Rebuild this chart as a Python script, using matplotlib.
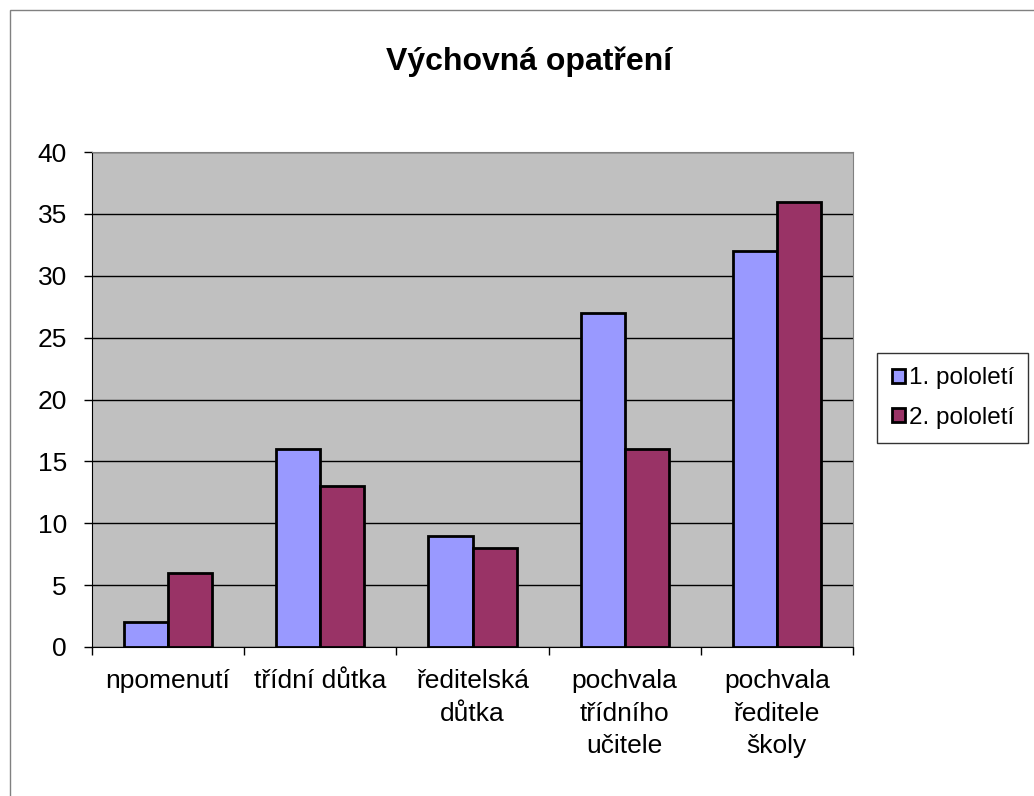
import numpy as np
import matplotlib.pyplot as plt
from matplotlib.patches import Rectangle, Patch

categories = ["npomenutí", "třídní důtka", "ředitelská\ndůtka",
              "pochvala\ntřídního\nučitele", "pochvala\nředitele\nškoly"]
pololeti_1 = [2, 16, 9, 27, 32]
pololeti_2 = [6, 13, 8, 16, 36]
series_names = ["1. pololetí", "2. pololetí"]

plt.rcParams["font.family"] = ["Liberation Sans", "DejaVu Sans"]

fig = plt.figure(figsize=(10.34, 7.96), dpi=100)
# outer chart border (only left/top visible in the original)
fig.patches.append(Rectangle((10 / 1034, -0.1), 1.2, 1.1 - 10 / 796,
                             transform=fig.transFigure, fill=False,
                             edgecolor="#808080", linewidth=1))

ax = fig.add_axes([92 / 1034, 149 / 796, 761 / 1034, 495 / 796])
ax.set_facecolor("#C0C0C0")

x = np.arange(len(categories))
w = 0.29
ax.bar(x - w / 2, pololeti_1, w, color="#9999FF", edgecolor="black",
       linewidth=2, zorder=3)
ax.bar(x + w / 2, pololeti_2, w, color="#993366", edgecolor="black",
       linewidth=2, zorder=3)

ax.set_xlim(-0.5, len(categories) - 0.5)
ax.set_ylim(0, 40)
ax.set_yticks(range(0, 41, 5))
ax.yaxis.grid(True, color="black", linewidth=1, zorder=0)
ax.set_axisbelow(True)

ax.set_xticks(np.arange(len(categories) + 1) - 0.5)
ax.set_xticklabels([])
ax.set_xticks(x, minor=True)
ax.set_xticklabels(categories, minor=True, fontsize=19, linespacing=1.45,
                   va="top")
ax.tick_params(axis="x", which="minor", length=0, pad=16)
ax.tick_params(axis="x", which="major", length=6, width=1)
ax.tick_params(axis="y", labelsize=19, length=6, width=1, pad=12)

for s in ["left", "bottom"]:
    ax.spines[s].set_color("black")
for s in ["top", "right"]:
    ax.spines[s].set_color("#808080")

fig.text(529 / 1034, 1 - 62 / 796, "Výchovná opatření", ha="center",
         va="center", fontsize=23, fontweight="bold")

handles = [Patch(facecolor="#9999FF", edgecolor="black", linewidth=2),
           Patch(facecolor="#993366", edgecolor="black", linewidth=2)]
leg = fig.legend(handles, series_names, loc="center left",
                 bbox_to_anchor=(877 / 1034, 1 - 398 / 796), fontsize=17.5,
                 frameon=True, fancybox=False, edgecolor="black",
                 handlelength=0.55, handleheight=0.55, handletextpad=0.15,
                 borderpad=0.6, labelspacing=0.7, borderaxespad=0)
leg.get_frame().set_linewidth(1)

fig.savefig("out.png", dpi=100)
